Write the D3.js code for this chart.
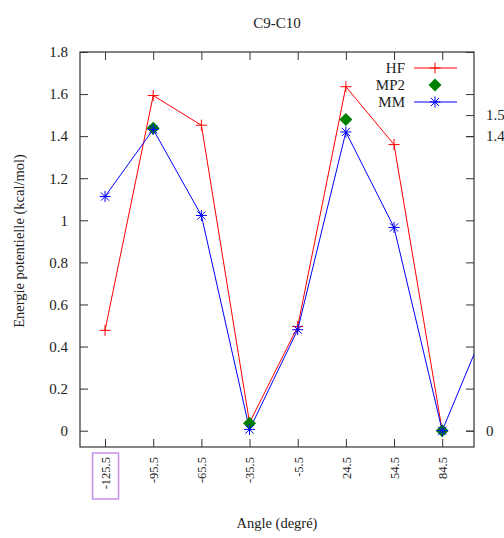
<!DOCTYPE html>
<html><head><meta charset="utf-8">
<script src="https://cdn.jsdelivr.net/npm/d3@7"></script>
<style>body{margin:0;background:#fff}text{font-family:"Liberation Serif","Times New Roman",serif;fill:#222}</style>
</head><body><svg id="c" width="504" height="538"></svg>
<script>
const angles = [-125.5, -95.5, -65.5, -35.5, -5.5, 24.5, 54.5, 84.5];
const angleLabels = ["-125.5", "-95.5", "-65.5", "-35.5", "-5.5", "24.5", "54.5", "84.5"];
const hfValues = [0.477, 1.593, 1.452, 0.038, 0.495, 1.635, 1.36, 0.0];
const mp2Angles = [-95.5, -35.5, 24.5, 84.5];
const mp2Values = [1.437, 0.035, 1.479, 0.0];
const mmAngles = [-125.5, -95.5, -65.5, -35.5, -5.5, 24.5, 54.5, 84.5, 114.5];
const mmValues = [1.113, 1.432, 1.023, 0.006, 0.48, 1.42, 0.966, 0.0, 0.55];
const leftTicks = [0, 0.2, 0.4, 0.6, 0.8, 1.0, 1.2, 1.4, 1.6, 1.8];
const rightTicks = [0, 1.4, 1.5];

const svg = d3.select("#c");
const L = 80, R = 474, T = 52, B = 447;
const x = d3.scaleLinear().domain([-141.1, 104.3]).range([L, R]);
const y = d3.scaleLinear().domain([-0.0775, 1.8]).range([B, T]);

svg.append("text").attr("x", 277).attr("y", 28).attr("text-anchor", "middle").style("font-size", "15px").text("C9-C10");

svg.append("clipPath").attr("id", "pc").append("rect").attr("x", L).attr("y", T).attr("width", R - L).attr("height", B - T);

const fmt = d => String(+d.toFixed(1));
const gL = svg.append("g").attr("transform", `translate(${L},0)`)
  .call(d3.axisLeft(y).tickValues(leftTicks).tickSize(-8).tickPadding(12).tickFormat(fmt));
const gR = svg.append("g").attr("transform", `translate(${R},0)`)
  .call(d3.axisRight(y).tickValues(rightTicks).tickSize(-8).tickPadding(12).tickFormat(fmt));
svg.append("g").attr("transform", `translate(${R},0)`)
  .call(d3.axisRight(y).tickValues(leftTicks).tickSize(-8).tickFormat(""));
const gB = svg.append("g").attr("transform", `translate(0,${B})`)
  .call(d3.axisBottom(x).tickValues(angles).tickSize(-8).tickPadding(10).tickFormat((d, i) => angleLabels[i]));
svg.append("g").attr("transform", `translate(0,${T})`)
  .call(d3.axisTop(x).tickValues(angles).tickSize(-8).tickFormat(""));
svg.selectAll(".domain").remove();
svg.selectAll(".tick line").attr("stroke", "#333");
gL.selectAll(".tick text").style("font-size", "15px");
gR.selectAll(".tick text").style("font-size", "15px");
gB.selectAll(".tick text").style("font-size", "12.5px").attr("transform", "rotate(-90)").attr("text-anchor", "end").attr("dy", "0.35em").attr("x", -10).attr("y", 0);
svg.append("rect").attr("x", L).attr("y", T).attr("width", R - L).attr("height", B - T).attr("fill", "none").attr("stroke", "#333").attr("stroke-width", 1.2);

// highlight box around first label
svg.append("rect").attr("x", x(angles[0]) - 12.5).attr("y", 453).attr("width", 26).attr("height", 46)
  .attr("fill", "none").attr("stroke", "#c48ee8").attr("stroke-width", 1.5);

svg.append("text").attr("transform", "translate(24,241) rotate(-90)").attr("text-anchor", "middle").style("font-size", "14.5px").text("Energie potentielle (kcal/mol)");
svg.append("text").attr("x", 277).attr("y", 528).attr("text-anchor", "middle").style("font-size", "14.5px").text("Angle (degré)");

const plot = svg.append("g").attr("clip-path", "url(#pc)");
const line = d3.line().x(d => x(d[0])).y(d => y(d[1]));
const hf = angles.map((a, i) => [a, hfValues[i]]);
const mm = mmAngles.map((a, i) => [a, mmValues[i]]);
const mp2 = mp2Angles.map((a, i) => [a, mp2Values[i]]);

plot.append("path").datum(hf).attr("d", line).attr("fill", "none").attr("stroke", "#ff0000").attr("stroke-width", 1);
plot.append("path").datum(mm).attr("d", line).attr("fill", "none").attr("stroke", "#0000ff").attr("stroke-width", 1);

function plus(g, cx, cy, s, col) {
  g.append("path").attr("d", `M${cx - s},${cy}H${cx + s}M${cx},${cy - s}V${cy + s}`).attr("stroke", col).attr("stroke-width", 1).attr("fill", "none");
}
function star(g, cx, cy, s, col) {
  const d = s * 0.75;
  g.append("path").attr("d", `M${cx - s},${cy}H${cx + s}M${cx},${cy - s}V${cy + s}M${cx - d},${cy - d}L${cx + d},${cy + d}M${cx - d},${cy + d}L${cx + d},${cy - d}`)
    .attr("stroke", col).attr("stroke-width", 1).attr("fill", "none");
}
function diamond(g, cx, cy, s, col) {
  g.append("path").attr("d", `M${cx},${cy - s}L${cx + s},${cy}L${cx},${cy + s}L${cx - s},${cy}Z`).attr("fill", col);
}
hf.forEach(d => plus(plot, x(d[0]), y(d[1]), 5.5, "#ff0000"));
mp2.forEach(d => diamond(plot, x(d[0]), y(d[1]), 6.5, "#008000"));
mm.forEach(d => star(plot, x(d[0]), y(d[1]), 5.5, "#0000ff"));

// legend
const leg = [["HF", "#ff0000", "plus"], ["MP2", "#008000", "diamond"], ["MM", "#0000ff", "star"]];
leg.forEach((l, i) => {
  const ly = 68 + i * 17;
  svg.append("text").attr("x", 405).attr("y", ly).attr("dy", "0.35em").attr("text-anchor", "end").style("font-size", "15px").text(l[0]);
  if (l[2] !== "diamond") svg.append("line").attr("x1", 414).attr("x2", 457).attr("y1", ly).attr("y2", ly).attr("stroke", l[1]).attr("stroke-width", 1);
  if (l[2] === "plus") plus(svg, 435, ly, 5.5, l[1]);
  if (l[2] === "diamond") diamond(svg, 435, ly, 6.5, l[1]);
  if (l[2] === "star") star(svg, 435, ly, 5.5, l[1]);
});
</script></body></html>
